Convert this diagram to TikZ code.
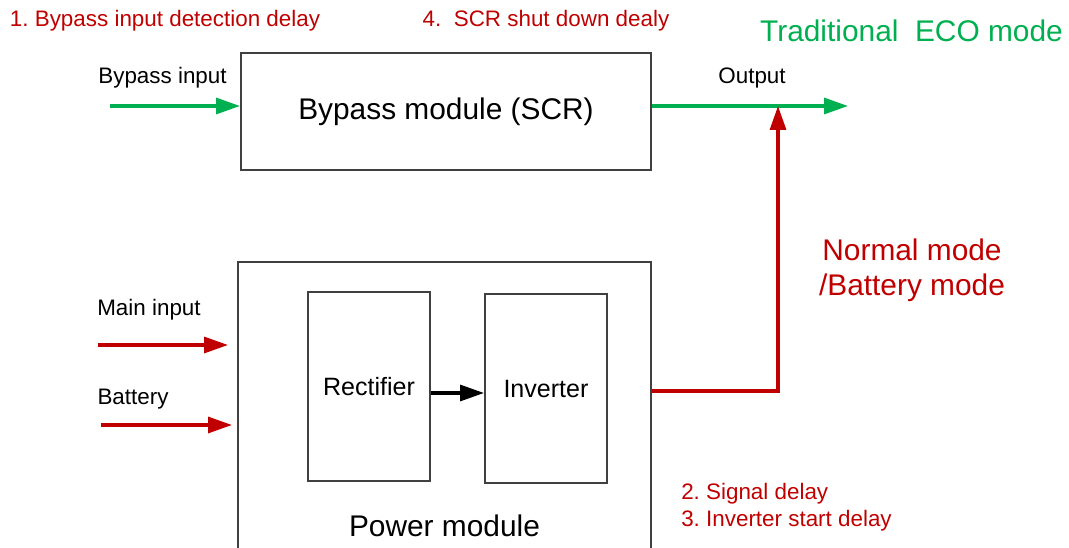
\documentclass[tikz,border=0pt]{standalone}
\usepackage{fontspec}
\setmainfont{Liberation Sans}
\usetikzlibrary{arrows.meta}
\frenchspacing

\definecolor{ecored}{RGB}{192,0,0}
\definecolor{ecogreen}{RGB}{0,176,80}
\definecolor{boxgray}{RGB}{64,64,64}

\newcommand{\fntsmall}{\fontsize{16.8}{20.25}\selectfont}
\newcommand{\fntmid}{\fontsize{18.8}{22}\selectfont}
\newcommand{\fntbig}{\fontsize{22.4}{26.25}\selectfont}

\begin{document}
\begin{tikzpicture}
    [
        x=0.75pt, y=-0.75pt,
        box/.style={draw=boxgray, line width=1.5pt, inner sep=0pt},
        lbl/.style={inner sep=0pt, font=\fntsmall},
        flow/.style={line width=2.4pt, -{Triangle[length=18pt, width=12pt]}},
    ]
    
    \path [use as bounding box] (0, 0) rectangle (1069, 548);
    \clip (0, 0) rectangle (1069, 548);
    
    % boxes
    \node [box, minimum width=0.75*410pt, minimum height=0.75*117pt,
        font=\fntbig] (bypass) at (446, 111.5) {Bypass module (SCR)};
    \node [box, minimum width=0.75*413pt, minimum height=0.75*308pt]
        (power) at (444.5, 416) {};
    \node [box, minimum width=0.75*122pt, minimum height=0.75*189pt,
        font=\fntmid] (rect) at (369, 386.5) {Rectifier};
    \node [box, minimum width=0.75*122pt, minimum height=0.75*189pt,
        font=\fntmid] (inv) at (546, 388.5) {Inverter};
    \node [inner sep=0pt, font=\fntbig] (powerlbl) at (444.5, 526) {Power module};
    
    % free ends
    \coordinate (bpin) at (110, 106);
    \coordinate (out) at (848, 106);
    \coordinate (join) at (778, 106);
    \coordinate (mainin) at (98, 345);
    \coordinate (mainend) at (228, 345);
    \coordinate (batin) at (101, 425);
    \coordinate (batend) at (232, 425);
    
    % connectors
    \draw [flow, ecogreen] (bpin) -- (bypass.west |- bpin);
    \draw [flow, ecogreen] (bypass.east |- bpin) -- (out);
    \draw [flow, ecored] (power.east |- 0, 391) -| (join);
    \draw [flow, ecored] (mainin) -- (mainend);
    \draw [flow, ecored] (batin) -- (batend);
    \draw [flow, black] (rect.east |- 0, 393) -- (inv.west |- 0, 393);
    
    % labels
    \node [lbl] (bpinlbl) at (162.5, 78) {Bypass input};
    \node [lbl] (outlbl) at (752, 78) {Output};
    \node [lbl] (mainlbl) at (149, 310) {Main input};
    \node [lbl] (batlbl) at (133, 399) {Battery};
    \node [lbl, text=ecored] (delay1) at (165, 21) {1. Bypass input detection delay};
    \node [lbl, text=ecored] (delay4) at (546, 21) {4.~ SCR shut down dealy};
    \node [lbl, text=ecored, align=left, anchor=west] (delay23) at (681, 507.5)
        {2. Signal delay\\3. Inverter start delay};
    \node [inner sep=0pt, font=\fntbig, text=ecogreen] (ecolbl) at (911.5, 31)
        {Traditional~ ECO mode};
    \node [inner sep=0pt, font=\fntbig, text=ecored, align=center] (normlbl)
        at (912, 270.5) {Normal mode\\/Battery mode};
    
    \end{tikzpicture}
\end{document}
